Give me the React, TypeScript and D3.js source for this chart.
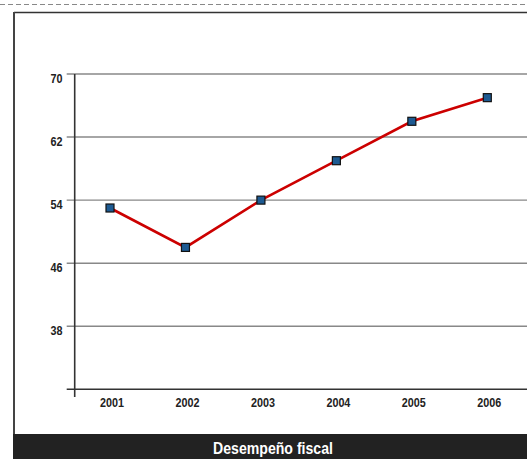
import React from "react";
import * as d3 from "d3";

const years = ["2001", "2002", "2003", "2004", "2005", "2006"];
const values = [53, 48, 54, 59, 64, 67];
const yTicks = [30, 38, 46, 54, 62, 70];
const yLabels = [38, 46, 54, 62, 70];
const title = "Desempeño fiscal";

const W = 527;
const H = 459;
const FONT = "'Liberation Sans', Arial, sans-serif";
const SX = 0.83;

function NarrowText(props: {
  x: number;
  y: number;
  size: number;
  anchor: "start" | "middle" | "end";
  fill: string;
  children: React.ReactNode;
}) {
  return (
    <text
      transform={`translate(${props.x},${props.y}) scale(${SX},1)`}
      textAnchor={props.anchor}
      fontFamily={FONT}
      fontWeight="bold"
      fontSize={props.size}
      fill={props.fill}
    >
      {props.children}
    </text>
  );
}

export default function App() {
  const axisX = 74.7;
  const x = d3.scalePoint<string>().domain(years).range([110, 487.3]);
  const y = d3.scaleLinear().domain([30, 70]).range([389.3, 74]);
  const line = d3
    .line<number>()
    .x((_, i) => x(years[i]) as number)
    .y((d) => y(d));

  return (
    <svg
      width={W}
      height={H}
      style={{ position: "absolute", left: 0, top: 0, background: "#fff" }}
    >
      {/* dashed top rule */}
      <line x1={0} x2={W} y1={4.5} y2={4.5} stroke="#888" strokeWidth={1} strokeDasharray="5 3" />
      {/* frame */}
      <line x1={14} x2={W} y1={12.5} y2={12.5} stroke="#333" strokeWidth={1.5} />
      <line x1={14} x2={14} y1={12} y2={434} stroke="#444" strokeWidth={2} />
      {/* grid lines */}
      {yTicks.map((t) => (
        <line
          key={t}
          x1={66.7}
          x2={W}
          y1={y(t)}
          y2={y(t)}
          stroke={t === 30 ? "#333" : "#888"}
          strokeWidth={t === 30 ? 1.6 : 1.4}
        />
      ))}
      {/* y axis */}
      <line x1={axisX} x2={axisX} y1={74} y2={397} stroke="#333" strokeWidth={1.6} />
      {yLabels.map((t) => (
        <NarrowText key={t} x={62.5} y={y(t) + 8.8} size={13} anchor="end" fill="#222">
          {t}
        </NarrowText>
      ))}
      {years.map((yr) => (
        <NarrowText
          key={yr}
          x={(x(yr) as number) + 2}
          y={407.3}
          size={13}
          anchor="middle"
          fill="#222"
        >
          {yr}
        </NarrowText>
      ))}
      {/* data line */}
      <path d={line(values) || ""} fill="none" stroke="#cc0000" strokeWidth={2.6} />
      {values.map((v, i) => (
        <rect
          key={i}
          x={(x(years[i]) as number) - 4}
          y={y(v) - 4}
          width={8}
          height={8}
          fill="#1d5a92"
          stroke="#111"
          strokeWidth={1.2}
        />
      ))}
      {/* title bar */}
      <rect x={13} y={434} width={W - 13} height={H - 434} fill="#222" />
      <NarrowText x={273} y={453.5} size={17} anchor="middle" fill="#fff">
        {title}
      </NarrowText>
    </svg>
  );
}
